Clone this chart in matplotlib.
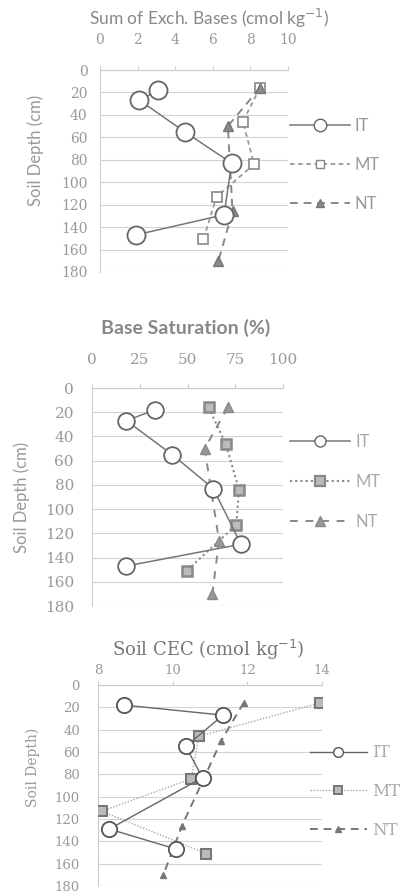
import matplotlib.pyplot as plt
from matplotlib.lines import Line2D

# depths (cm) for each tillage system
depth_it = [18, 27, 55, 83, 129, 147]
depth_mt = [16, 46, 84, 113, 151]
depth_nt = [16, 50, 126, 170]

# Sum of exchangeable bases (cmol kg-1)
seb_it = [3.1, 2.1, 4.5, 7.0, 6.6, 1.9]
seb_mt = [8.5, 7.6, 8.2, 6.2, 5.5]
seb_nt = [8.5, 6.8, 7.05, 6.3]

# Base saturation (%)
bs_it = [33, 18, 42, 63.5, 78, 18]
bs_mt = [61, 70, 77, 75.5, 49.5]
bs_nt = [71, 59, 66.5, 63]

# Soil CEC (cmol kg-1)
cec_it = [8.7, 11.35, 10.35, 10.8, 8.3, 10.1]
cec_mt = [13.95, 10.7, 10.5, 8.1, 10.9]
cec_nt = [11.9, 11.3, 10.25, 9.75]

labels = ["IT", "MT", "NT"]
depth_ticks = list(range(0, 181, 20))

W, H = 401, 894
fig = plt.figure(figsize=(W / 100, H / 100), dpi=100)
fig.patch.set_facecolor("white")

SANS = ["Lato", "DejaVu Sans"]
SERIF = ["DejaVu Serif"]


def px_axes(x0, x1, y0, y1):
    return fig.add_axes([x0 / W, 1 - y1 / H, (x1 - x0) / W, (y1 - y0) / H])


def setup(ax, xlim, xticks, tick_font, tick_size, xpad, ypad, color):
    ax.set_xlim(*xlim)
    ax.set_ylim(180, 0)
    ax.set_xticks(xticks)
    ax.set_yticks(depth_ticks)
    ax.xaxis.tick_top()
    ax.tick_params(axis="x", length=3, color="#cccccc", pad=xpad, labelcolor=color)
    ax.tick_params(axis="y", length=0, pad=ypad, labelcolor=color)
    for lab in ax.get_xticklabels() + ax.get_yticklabels():
        lab.set_fontfamily(tick_font)
        lab.set_fontsize(tick_size)
    for s in ["right", "bottom"]:
        ax.spines[s].set_visible(False)
    ax.spines["left"].set_color("#cccccc")
    ax.spines["top"].set_color("#cccccc")
    ax.grid(axis="y", color="#d4d4d4", lw=0.8)
    ax.set_axisbelow(True)


# ---------- panel 1: sum of exchangeable bases ----------
ax1 = px_axes(100, 288, 70, 272)
setup(ax1, (0, 10), [0, 2, 4, 6, 8, 10], SERIF, 10, 13.5, 9, "#999999")
ax1.plot(seb_it, depth_it, color="#777777", lw=1.1, marker="o", ms=13,
         mfc="white", mec="#666666", mew=1.3, zorder=4)
ax1.plot(seb_mt, depth_mt, color="#999999", lw=1.3, ls=(0, (2.5, 2)), marker="s",
         ms=7.5, mfc="white", mec="#888888", mew=1.2, zorder=3)
ax1.plot(seb_nt, depth_nt, color="#888888", lw=1.4, ls=(0, (4, 3)), marker="^",
         ms=7, mfc="#888888", mec="#777777", zorder=3)
ax1.set_ylabel("Soil Depth (cm)", fontfamily=SANS, fontsize=12, color="#999999")
ax1.yaxis.set_label_coords(-0.30, 0.6)
fig.text(209 / W, 1 - 18 / H, "Sum of Exch. Bases (cmol kg$^{-1}$)", ha="center",
         va="center", fontfamily=SANS, fontsize=12.5, color="#888888")
h1 = [Line2D([], [], color="#777777", lw=1.1, marker="o", ms=9, mfc="white", mec="#666666"),
      Line2D([], [], color="#999999", lw=1.3, ls=(0, (2.5, 2)), marker="s", ms=6, mfc="white", mec="#888888"),
      Line2D([], [], color="#888888", lw=1.4, ls=(0, (4, 3)), marker="^", ms=6, mfc="#888888", mec="#777777")]
leg1 = ax1.legend(h1, labels, loc="center left", bbox_to_anchor=(0.93, 0.53), frameon=False,
                  handlelength=3.6, handletextpad=0.3, labelspacing=1.4,
                  prop={"family": SANS, "size": 12})
for t in leg1.get_texts():
    t.set_color("#999999")

# ---------- panel 2: base saturation ----------
ax2 = px_axes(92, 283, 388, 606)
setup(ax2, (0, 100), [0, 25, 50, 75, 100], SERIF, 11, 12, 13, "#999999")
ax2.plot(bs_it, depth_it, color="#777777", lw=1.1, marker="o", ms=12,
         mfc="white", mec="#666666", mew=1.3, zorder=4)
ax2.plot(bs_mt, depth_mt, color="#888888", lw=1.5, ls=(0, (1, 1.5)), marker="s",
         ms=7.5, mfc="#bbbbbb", mec="#888888", mew=1.8, zorder=3)
ax2.plot(bs_nt, depth_nt, color="#888888", lw=1.4, ls=(0, (4, 4)), marker="^",
         ms=7.5, mfc="#999999", mec="#888888", zorder=3)
ax2.set_ylabel("Soil Depth (cm)", fontfamily=SANS, fontsize=12, color="#999999")
ax2.yaxis.set_label_coords(-0.325, 0.5)
fig.text(186 / W, 1 - 328 / H, "Base Saturation (%)", ha="center", va="center",
         fontfamily=SANS, fontsize=14, fontweight="bold", color="#888888")
h2 = [Line2D([], [], color="#777777", lw=1.1, marker="o", ms=8, mfc="white", mec="#666666"),
      Line2D([], [], color="#888888", lw=1.5, ls=(0, (1, 1.5)), marker="s", ms=6.5, mfc="#bbbbbb", mec="#888888", mew=1.6),
      Line2D([], [], color="#888888", lw=1.4, ls=(0, (4, 4)), marker="^", ms=6.5, mfc="#999999", mec="#888888")]
leg2 = ax2.legend(h2, labels, loc="center left", bbox_to_anchor=(0.96, 0.57), frameon=False,
                  handlelength=3.6, handletextpad=0.3, labelspacing=1.45,
                  prop={"family": SANS, "size": 12})
for t in leg2.get_texts():
    t.set_color("#aaaaaa")

# ---------- panel 3: soil CEC ----------
ax3 = px_axes(98, 322, 685, 886)
setup(ax3, (8, 14), [8, 10, 12, 14], SERIF, 9.5, 3, 13, "#999999")
ax3.plot(cec_it, depth_it, color="#666666", lw=1.0, marker="o", ms=11,
         mfc="white", mec="#555555", mew=1.3, zorder=4)
ax3.plot(cec_mt, depth_mt, color="#aaaaaa", lw=1.0, ls=(0, (1, 1.2)), marker="s",
         ms=6.5, mfc="#bbbbbb", mec="#777777", mew=1.5, zorder=3)
ax3.plot(cec_nt, depth_nt, color="#777777", lw=1.4, ls=(0, (4, 3)), marker="^",
         ms=4.5, mfc="#777777", mec="#777777", zorder=3)
ax3.set_ylabel("Soil Depth)", fontfamily=SERIF, fontsize=10, color="#999999")
ax3.yaxis.set_label_coords(-0.26, 0.59)
fig.text(208 / W, 1 - 650 / H, "Soil CEC (cmol kg$^{-1}$)", ha="center", va="center",
         fontfamily=SERIF, fontsize=13, color="#777777")
h3 = [Line2D([], [], color="#666666", lw=1.0, marker="o", ms=7, mfc="white", mec="#555555"),
      Line2D([], [], color="#aaaaaa", lw=1.0, ls=(0, (1, 1.2)), marker="s", ms=5.5, mfc="#bbbbbb", mec="#777777", mew=1.4),
      Line2D([], [], color="#777777", lw=1.4, ls=(0, (4, 3)), marker="^", ms=4, mfc="#777777", mec="#777777")]
leg3 = ax3.legend(h3, labels, loc="center left", bbox_to_anchor=(0.88, 0.47), frameon=False,
                  handlelength=3.4, handletextpad=0.3, labelspacing=1.3,
                  prop={"family": SERIF, "size": 12})
for t in leg3.get_texts():
    t.set_color("#aaaaaa")

fig.savefig("out.png", dpi=100, facecolor="white")
